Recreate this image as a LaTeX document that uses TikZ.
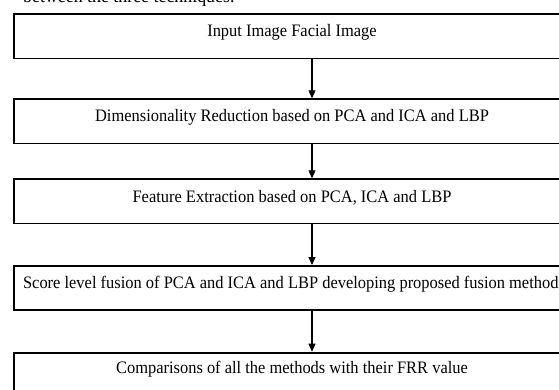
\documentclass[tikz,border=0pt]{standalone}
\usepackage{fontspec}
\setmainfont{Liberation Serif}[FakeStretch=0.94]
\usetikzlibrary{positioning,arrows.meta}

\begin{document}
\begin{tikzpicture}[
    node distance=39pt,
    stepbox/.style={rectangle,draw=black,line width=1.8pt,minimum width=596.8pt,minimum height=44.2pt,inner sep=0pt},
    boxtext/.style={xshift=-20pt,yshift=4pt,font=\fontsize{17.5}{20}\selectfont},
    arrow/.style={-{Triangle[length=8pt,width=7pt]},line width=1.1pt,black}
]
\useasboundingbox (0,0) rectangle (559pt,-389pt);
\clip (0,0) rectangle (559pt,-389pt);

% caption line cut off by the top edge
\node[anchor=base west,inner sep=0pt,font=\fontsize{19}{22}\selectfont] (cap) at (23pt,-2.5pt) {between the three techniques.};

\node[stepbox,label={[boxtext]center:Input Image Facial Image}] (input) at (312pt,-36.3pt) {};
\node[stepbox,below=of input,label={[boxtext]center:Dimensionality Reduction based on PCA and ICA and LBP}] (dimred) {};
\node[stepbox,below=34pt of dimred,label={[boxtext]center:Feature Extraction based on PCA, ICA and LBP}] (featext) {};
\node[stepbox,below=40.7pt of featext,label={[boxtext,xshift=2pt]center:Score level fusion of PCA and ICA and LBP developing proposed fusion methods}] (fusion) {};
\node[stepbox,below=40.7pt of fusion,label={[boxtext,yshift=1.5pt]center:Comparisons of all the methods with their FRR value}] (compare) {};

\draw[arrow] (input) -- (dimred);
\draw[arrow] (dimred) -- (featext);
\draw[arrow] (featext) -- (fusion);
\draw[arrow] (fusion) -- (compare);

\end{tikzpicture}
\end{document}
